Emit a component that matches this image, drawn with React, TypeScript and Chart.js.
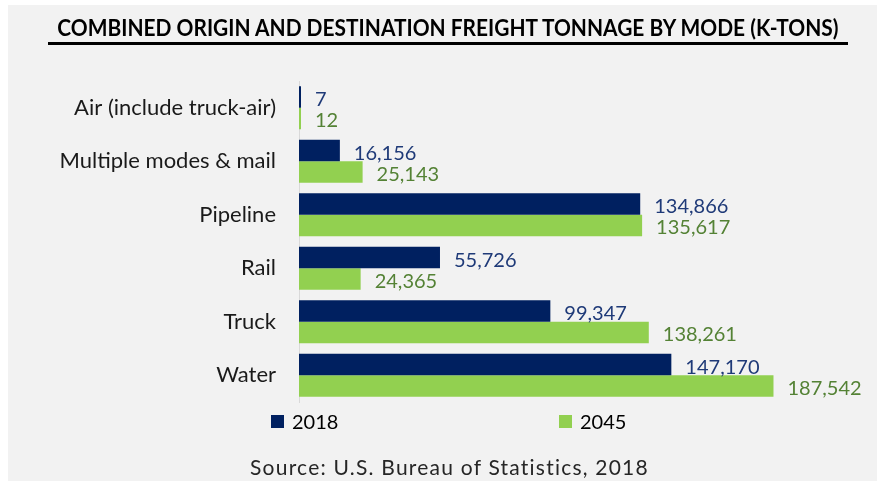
import React, { useEffect, useRef } from "react";
import { Chart, registerables } from "chart.js";

Chart.register(...registerables);

const titleText = "COMBINED ORIGIN AND DESTINATION FREIGHT TONNAGE BY MODE (K-TONS)";
const sourceText = "Source: U.S. Bureau of Statistics, 2018";
const categories = [
  "Air (include truck-air)",
  "Multiple modes & mail",
  "Pipeline",
  "Rail",
  "Truck",
  "Water",
];
const seriesNames = ["2018", "2045"];
const values2018 = [7, 16156, 134866, 55726, 99347, 147170];
const values2045 = [12, 25143, 135617, 24365, 138261, 187542];
const barColors = ["#002060", "#92D050"];
const labelColors = ["#1f3a78", "#548235"];
const FONT = "Lato, 'Noto Sans', sans-serif";

function measure(font: string, text: string): number {
  const c = document.createElement("canvas");
  const ctx = c.getContext("2d");
  if (!ctx) return 0;
  ctx.font = font;
  return ctx.measureText(text).width;
}

const valueLabelPlugin = {
  id: "valueLabels",
  afterDatasetsDraw(chart: any) {
    const ctx = chart.ctx;
    ctx.save();
    ctx.font = `20px ${FONT}`;
    ctx.textAlign = "left";
    ctx.textBaseline = "alphabetic";
    chart.data.datasets.forEach((ds: any, i: number) => {
      const meta = chart.getDatasetMeta(i);
      ctx.fillStyle = labelColors[i];
      meta.data.forEach((bar: any, j: number) => {
        const v = ds.data[j] as number;
        ctx.fillText(v.toLocaleString("en-US"), bar.x + 14, bar.y + 9);
      });
    });
    ctx.restore();
  },
};

export default function App() {
  const ref = useRef<HTMLCanvasElement>(null);

  useEffect(() => {
    if (!ref.current) return;
    const chart = new Chart(ref.current, {
      type: "bar",
      data: {
        labels: categories,
        datasets: [
          { label: seriesNames[0], data: values2018, backgroundColor: barColors[0] },
          { label: seriesNames[1], data: values2045, backgroundColor: barColors[1] },
        ],
      },
      options: {
        indexAxis: "y",
        responsive: false,
        animation: false,
        events: [],
        layout: { padding: { top: 81, bottom: 79, right: 72, left: 0 } },
        datasets: {
          bar: { categoryPercentage: 0.8, barPercentage: 1.0, minBarLength: 2 },
        },
        plugins: {
          legend: { display: false },
          title: { display: false },
          tooltip: { enabled: false },
        },
        scales: {
          x: { display: false, min: 0, max: 200000 },
          y: {
            grid: { display: false, drawTicks: false },
            border: { display: true, color: "#d9d9d9", width: 1 },
            ticks: {
              padding: 23,
              color: "#1a1a1a",
              font: { family: FONT, size: 22 },
            },
            afterFit: (scale: any) => {
              scale.width = 299;
            },
          },
        },
      },
      plugins: [valueLabelPlugin],
    });
    return () => chart.destroy();
  }, []);

  const titleFont = `bold 22px ${FONT}`;
  const tw = measure(titleFont, titleText) || 784;
  const titleScale = 784 / tw;
  const srcFont = `21px ${FONT}`;
  const sw = measure(srcFont, sourceText) || 400;
  const srcSpacing = (400 - sw) / sourceText.length;

  return (
    <div>
      <div
        style={{
          position: "absolute",
          left: 8,
          top: 5,
          width: 869,
          height: 476,
          background: "#f2f2f2",
        }}
      />
      <canvas
        ref={ref}
        width={877}
        height={481}
        style={{ position: "absolute", left: 0, top: 0, width: 877, height: 481 }}
      />
      <div
        style={{
          position: "absolute",
          left: 48,
          top: 15,
          width: 800,
          height: 27,
          borderBottom: "3px solid #000",
          display: "flex",
          justifyContent: "center",
          whiteSpace: "nowrap",
        }}
      >
        <span
          style={{
            font: titleFont,
            lineHeight: "26.4px",
            color: "#000",
            display: "inline-block",
            transform: `scaleX(${titleScale})`,
            transformOrigin: "center",
          }}
        >
          {titleText}
        </span>
      </div>
      <div style={{ position: "absolute", left: 271, top: 415, width: 13, height: 13, background: barColors[0] }} />
      <div style={{ position: "absolute", left: 292, top: 409, font: `20px ${FONT}`, lineHeight: "24px", color: "#000" }}>
        {seriesNames[0]}
      </div>
      <div style={{ position: "absolute", left: 559, top: 415, width: 13, height: 13, background: barColors[1] }} />
      <div style={{ position: "absolute", left: 580, top: 409, font: `20px ${FONT}`, lineHeight: "24px", color: "#000" }}>
        {seriesNames[1]}
      </div>
      <div
        style={{
          position: "absolute",
          left: 0,
          width: 877,
          top: 454,
          textAlign: "center",
          paddingLeft: 22,
          boxSizing: "border-box",
          font: srcFont,
          lineHeight: "25.2px",
          letterSpacing: `${srcSpacing}px`,
          color: "#262626",
          whiteSpace: "nowrap",
        }}
      >
        {sourceText}
      </div>
    </div>
  );
}
